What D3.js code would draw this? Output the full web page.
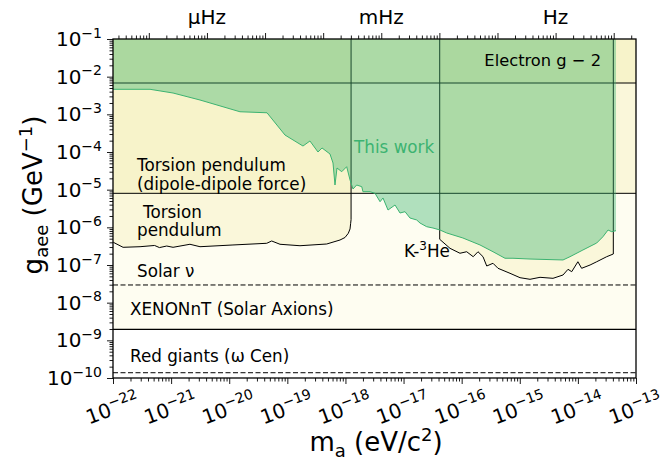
<!DOCTYPE html>
<html>
<head>
<meta charset="utf-8">
<script src="https://cdn.jsdelivr.net/npm/d3@7"></script>
<style>
  body { margin: 0; background: #fff; }
  svg { font-family: "DejaVu Sans", sans-serif; }
</style>
</head>
<body>
<div id="chart"></div>
<script>
// --- data (m_a in eV, g_aee in GeV^-1) ---
const thisWorkMass = [1e-22, 4.34e-22, 1.08e-21, 3.14e-21, 1.53e-20, 4.47e-20, 9.12e-20, 1.86e-19, 2.45e-19, 3.37e-19,
  3.95e-19, 5.42e-19, 6.11e-19, 6.61e-19, 7.16e-19, 8.63e-19, 1.05e-18, 1.20e-18, 1.35e-18, 1.56e-18,
  1.91e-18, 2.00e-18, 2.65e-18, 3.23e-18, 3.94e-18, 4.43e-18, 5.40e-18, 7.13e-18, 8.69e-18, 1.06e-17,
  1.29e-17, 1.68e-17, 1.92e-17, 2.50e-17, 3.21e-17, 4.24e-17, 5.53e-17, 1.05e-16, 2.07e-16, 3.46e-16,
  5.57e-16, 7.64e-16, 1.50e-15, 5.55e-15, 7.31e-15, 1.22e-14, 2.11e-14, 2.70e-14, 3.30e-14, 3.82e-14, 4.53e-14];
const thisWorkG = [4.62e-3, 4.62e-3, 3.68e-3, 2.40e-3, 1.17e-3, 1.10e-3, 2.82e-4, 1.44e-4, 1.96e-4, 1.00e-4,
  1.28e-4, 8.85e-5, 5.11e-5, 1.33e-5, 3.76e-5, 3.00e-5, 4.07e-5, 1.81e-5, 1.04e-5, 1.33e-5,
  1.20e-5, 8.83e-6, 8.83e-6, 8.00e-6, 4.79e-6, 6.01e-6, 2.88e-6, 3.92e-6, 2.40e-6, 2.60e-6,
  1.77e-6, 1.57e-6, 1.30e-6, 1.04e-6, 9.59e-7, 8.49e-7, 7.08e-7, 5.21e-7, 3.40e-7, 2.25e-7,
  1.51e-7, 1.51e-7, 1.44e-7, 1.36e-7, 1.66e-7, 2.50e-7, 3.84e-7, 5.64e-7, 8.49e-7, 7.66e-7, 8.15e-7];

const torsionMass = [1.01e-22, 1.49e-22, 2.92e-22, 5.2e-22, 6.3e-22, 8.40e-22, 1.08e-21, 2.11e-21, 3.14e-21, 1.16e-20,
  4.42e-20, 5.38e-20, 7.48e-20, 1.65e-19, 4.76e-19, 8.06e-19, 9.82e-19, 1.12e-18, 1.20e-18, 1.23e-18, 1.25e-18, 1.25e-18];
const torsionG = [4.01e-7, 2.95e-7, 3.06e-7, 3.3e-7, 2.9e-7, 3.19e-7, 2.95e-7, 3.55e-7, 3.06e-7, 3.40e-7,
  3.77e-7, 4.34e-7, 3.55e-7, 3.25e-7, 3.61e-7, 4.61e-7, 5.37e-7, 6.95e-7, 9.06e-7, 1.28e-6, 1.6e-6, 1e-1];

const k3HeMass = [4.19e-17, 4.19e-17, 6.30e-17, 9.35e-17, 1.22e-16, 1.58e-16, 1.91e-16, 2.33e-16, 2.70e-16, 3.46e-16,
  4.22e-16, 6.79e-16, 1.01e-15, 1.50e-15, 2.23e-15, 3.73e-15, 5.55e-15, 6.76e-15, 7.83e-15, 1.00e-14,
  1.16e-14, 1.62e-14, 2.11e-14, 3.13e-14, 4.07e-14, 4.07e-14];
const k3HeG = [1e-1, 4.81e-7, 2.77e-7, 2.05e-7, 2.25e-7, 1.66e-7, 2.25e-7, 1.66e-7, 9.40e-8, 1.11e-7,
  8.17e-8, 6.02e-8, 4.60e-8, 4.17e-8, 4.71e-8, 4.43e-8, 5.43e-8, 7.69e-8, 6.64e-8, 1.22e-7,
  8.17e-8, 1.00e-7, 1.22e-7, 1.66e-7, 1.96e-7, 1e-1];

const electronG2 = 6.79e-3;
const dipoleDipole = 8.0e-6;
const solarNu = 2.95e-8;
const xenonNT = 1.96e-9;
const redGiants = 1.38e-10;

const massTicks = d3.range(-22, -12);           // exponents of the labelled decades
const couplingTicks = d3.range(-10, 0);
const freqTicks = d3.range(-7, 2);
const freqLabels = { "-6": "μHz", "-3": "mHz", "0": "Hz" };
const HZ_PER_EV = 2.418e14;

// --- layout ---
const W = 661, H = 461;
const P = { left: 113, right: 636, top: 39, bottom: 378 };

const svg = d3.select("#chart").append("svg").attr("width", W).attr("height", H);

const x = d3.scaleLog().domain([1e-22, 1e-13]).range([P.left, P.right]);
const y = d3.scaleLog().domain([1e-10, 1e-1]).range([P.bottom, P.top]);
const xf = d3.scaleLog().domain([1e-22 * HZ_PER_EV, 1e-13 * HZ_PER_EV]).range([P.left, P.right]);

svg.append("defs").append("clipPath").attr("id", "clip")
  .append("rect").attr("x", P.left).attr("y", P.top)
  .attr("width", P.right - P.left).attr("height", P.bottom - P.top);

const plot = svg.append("g").attr("clip-path", "url(#clip)");

const YEL = "#f2eba6";
const line = d3.line().x(d => x(d[0])).y(d => y(d[1]));
const band = g => [[1e-22, 1e-1], [1e-22, g], [1e-13, g], [1e-13, 1e-1]];

// constraint fills (stacked, translucent)
plot.append("path").attr("d", line(band(xenonNT))).attr("fill", "#fdf8c8").attr("fill-opacity", 0.25);
plot.append("path").attr("d", line(band(dipoleDipole))).attr("fill", YEL).attr("fill-opacity", 0.3);

const torsion = torsionMass.map((m, i) => [m, torsionG[i]]);
plot.append("path").attr("d", line([[1e-22, 1e-1], ...torsion]) + "Z")
  .attr("fill", YEL).attr("fill-opacity", 0.3);

const k3he = k3HeMass.map((m, i) => [m, k3HeG[i]]);
plot.append("path").attr("d", line(k3he) + "Z").attr("fill", YEL).attr("fill-opacity", 0.3);

plot.append("path").attr("d", line(band(electronG2))).attr("fill", YEL).attr("fill-opacity", 0.3);

// constraint boundaries
plot.append("path").attr("d", line(torsion)).attr("fill", "none").attr("stroke", "#000").attr("stroke-width", 1);
plot.append("path").attr("d", line(k3he)).attr("fill", "none").attr("stroke", "#000").attr("stroke-width", 1);

[[electronG2, null], [dipoleDipole, null], [xenonNT, null], [solarNu, "5,2.5"], [redGiants, "5,2.5"]].forEach(([g, dash]) => {
  plot.append("path").attr("d", line([[1e-22, g], [1e-13, g]]))
    .attr("fill", "none").attr("stroke", "#000")
    .attr("stroke-width", g === xenonNT ? 1.3 : 1)
    .attr("stroke-dasharray", dash);
});

// this work
const tw = thisWorkMass.map((m, i) => [m, thisWorkG[i]]);
plot.append("path")
  .attr("d", line([[1e-22, 1e-1], ...tw, [thisWorkMass[thisWorkMass.length - 1], 1e-1]]) + "Z")
  .attr("fill", "#3cb371").attr("fill-opacity", 0.4);
plot.append("path").attr("d", line(tw)).attr("fill", "none").attr("stroke", "#3cb371").attr("stroke-width", 1);

// labels inside
const lab = (tx, ty, s, col) => svg.append("text").attr("x", tx).attr("y", ty)
  .attr("font-size", 16.8).attr("fill", col || "#000").text(s);
lab(601, 66, "Electron g − 2").attr("text-anchor", "end").attr("font-size", 16.3);
lab(354, 153, "This work", "#3cb371");
lab(137, 171, "Torsion pendulum");
lab(137, 189.5, "(dipole-dipole force)");
lab(143, 217.5, "Torsion");
lab(137, 236, "pendulum");
lab(137, 277, "Solar ν");
lab(130, 315, "XENONnT (Solar Axions)");
lab(130, 361.5, "Red giants (ω Cen)");
const k = lab(404, 257, "K-");
k.append("tspan").attr("dy", -7).attr("font-size", 12).text("3");
k.append("tspan").attr("dy", 7).text("He");

// --- axes ---
const minors = (lo, hi) => {
  const out = [];
  for (let e = lo; e < hi; e++) for (let m = 2; m < 10; m++) out.push(m * Math.pow(10, e));
  return out;
};

function drawAxis(axisFn, scale, majors, minorVals, transform) {
  const gMaj = svg.append("g").attr("transform", transform)
    .call(axisFn(scale).tickValues(majors).tickSize(6).tickFormat(""));
  const gMin = svg.append("g").attr("transform", transform)
    .call(axisFn(scale).tickValues(minorVals).tickSize(3.5).tickFormat(""));
  [gMaj, gMin].forEach(g => {
    g.select(".domain").remove();
    g.selectAll("line").attr("stroke", "#000").attr("stroke-width", 0.9);
  });
}

const [f0, f1] = xf.domain();
drawAxis(d3.axisBottom, x, massTicks.map(e => Math.pow(10, e)), minors(-22, -13), `translate(0,${P.bottom})`);
drawAxis(d3.axisLeft, y, couplingTicks.map(e => Math.pow(10, e)), minors(-10, -1), `translate(${P.left},0)`);
drawAxis(d3.axisTop, xf, freqTicks.map(e => Math.pow(10, e)),
  minors(-8, 2).filter(v => v >= f0 && v <= f1), `translate(0,${P.top})`);

// frame
svg.append("rect").attr("x", P.left).attr("y", P.top)
  .attr("width", P.right - P.left).attr("height", P.bottom - P.top)
  .attr("fill", "none").attr("stroke", "#000").attr("stroke-width", 1.3);

// y tick labels
couplingTicks.forEach(e => {
  const t = svg.append("text").attr("x", 102).attr("y", y(Math.pow(10, e)) + 7)
    .attr("text-anchor", "end").attr("font-size", 20).text("10");
  t.append("tspan").attr("dy", -8.5).attr("font-size", 14).text("−" + (-e));
});

// x tick labels (rotated)
massTicks.forEach(e => {
  const t = svg.append("g").attr("transform", `translate(${x(Math.pow(10, e)) - 1},407) rotate(-20)`)
    .append("text").attr("y", 8.5).attr("text-anchor", "middle").attr("font-size", 20).text("10");
  t.append("tspan").attr("dy", -8.5).attr("font-size", 14).text("−" + (-e));
});

// frequency labels
freqTicks.filter(e => freqLabels[e]).forEach(e => {
  svg.append("text").attr("x", xf(Math.pow(10, e))).attr("y", 24)
    .attr("text-anchor", "middle").attr("font-size", 20).text(freqLabels[e]);
});

// axis titles
const xt = svg.append("text").attr("x", 376).attr("y", 451).attr("text-anchor", "middle").attr("font-size", 26).text("m");
xt.append("tspan").attr("dy", 5.5).attr("font-size", 18).text("a");
xt.append("tspan").attr("dy", -5.5).text(" (eV/c");
xt.append("tspan").attr("dy", -10).attr("font-size", 18).text("2");
xt.append("tspan").attr("dy", 10).text(")");

const yt = svg.append("text").attr("transform", "translate(42,195) rotate(-90)")
  .attr("text-anchor", "middle").attr("font-size", 26).text("g");
yt.append("tspan").attr("dy", 5.5).attr("font-size", 18).text("aee");
yt.append("tspan").attr("dy", -5.5).text(" (GeV");
yt.append("tspan").attr("dy", -10).attr("font-size", 18).text("−1");
yt.append("tspan").attr("dy", 10).text(")");
</script>
</body>
</html>
